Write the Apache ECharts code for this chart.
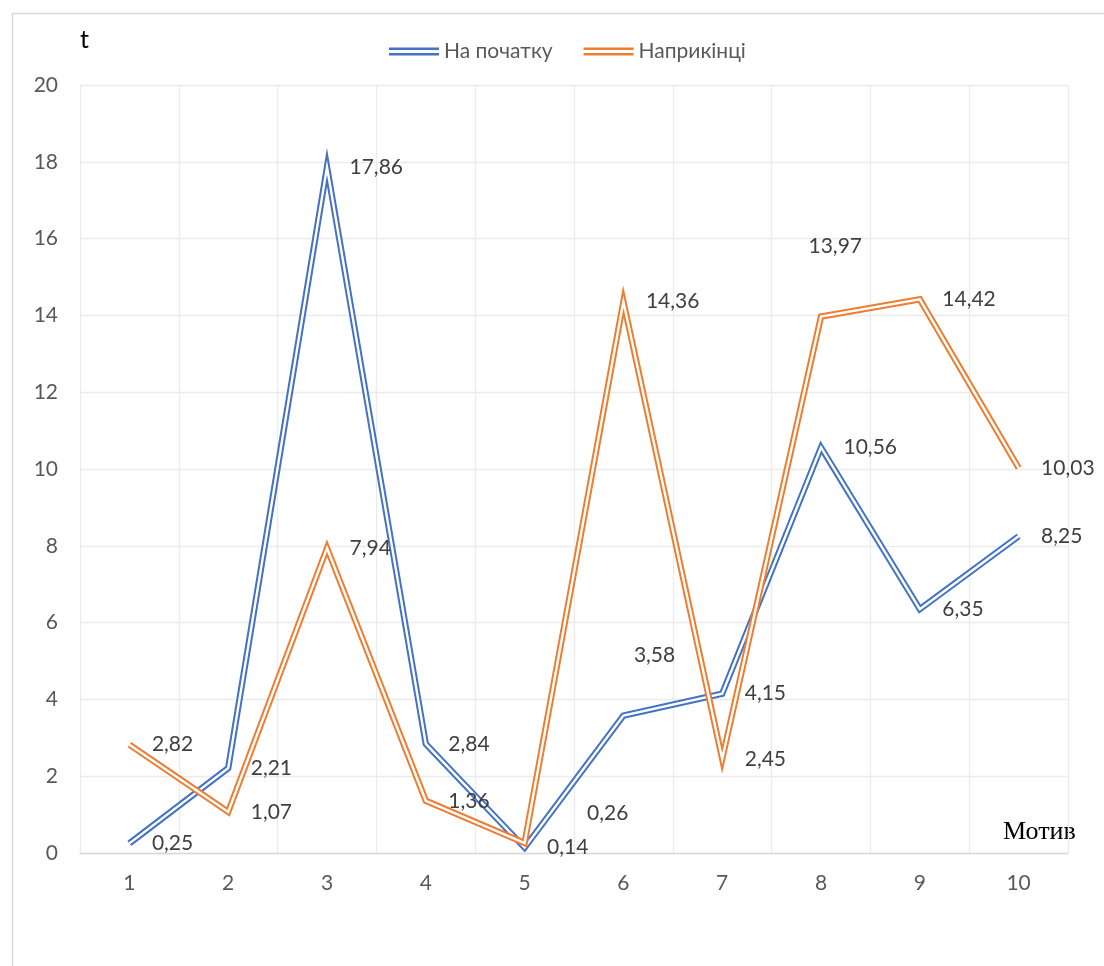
<!DOCTYPE html>
<html>
<head>
<meta charset="utf-8">
<script src="https://cdn.jsdelivr.net/npm/echarts@6/dist/echarts.min.js"></script>
<style>
  html, body { margin: 0; padding: 0; background: #fff; }
  #chart { width: 1104px; height: 966px; }
</style>
</head>
<body>
<div id="chart"></div>
<script>
// Motive categories and the two measurement series
const categories = ['1', '2', '3', '4', '5', '6', '7', '8', '9', '10'];
const startValues = [0.25, 2.21, 17.86, 2.84, 0.14, 3.58, 4.15, 10.56, 6.35, 8.25];
const endValues = [2.82, 1.07, 7.94, 1.36, 0.26, 14.36, 2.45, 13.97, 14.42, 10.03];
const yTicks = { min: 0, max: 20, step: 2 };

// hand-placed labels (pixel shifts from the default right-hand position)
const startLabelShift = { 5: [-12, -60] };
const endLabelShift = { 4: [40, -30], 7: [-35, -70] };

const BLUE = '#4472C4';
const ORANGE = '#ED7D31';
const FONT = 'Lato, "Noto Sans", sans-serif';

function fmt(v) { return v.toFixed(2).replace('.', ','); }

// double line: wide coloured stroke with a thin white core
function outer(name, color, values, shifts) {
  return {
    name: name,
    type: 'line',
    data: values,
    symbol: 'circle',
    symbolSize: 1,
    showSymbol: true,
    itemStyle: { color: 'rgba(0,0,0,0)', borderWidth: 0, opacity: 1 },
    color: color,
    lineStyle: { color: color, width: 6.4, join: 'miter', miterLimit: 30 },
    label: {
      show: true,
      position: 'right',
      distance: 22,
      formatter: p => fmt(p.value),
      color: '#404040',
      fontSize: 21,
      fontFamily: FONT,
      opacity: 1
    },
    labelLayout: function (params) {
      const s = shifts[params.dataIndex];
      return s ? { dx: s[0], dy: s[1], hideOverlap: false } : { hideOverlap: false };
    },
    emphasis: { disabled: true },
    z: 2
  };
}
function inner(values) {
  return {
    type: 'line',
    data: values,
    symbol: 'none',
    lineStyle: { color: '#ffffff', width: 2.4, join: 'miter', miterLimit: 30 },
    emphasis: { disabled: true },
    silent: true,
    z: 2
  };
}

const chart = echarts.init(document.getElementById('chart'));
chart.setOption({
  animation: false,
  backgroundColor: '#ffffff',
  grid: { left: 80, right: 36, top: 85, bottom: 113 },
  legend: {
    data: [
      { name: 'На початку', itemStyle: { color: BLUE } },
      { name: 'Наприкінці', itemStyle: { color: ORANGE } }
    ],
    left: 384,
    top: 36,
    itemWidth: 50,
    itemHeight: 8,
    itemGap: 31,
    icon: 'path://M0,0 L50,0 L50,2.5 L0,2.5 Z M0,5.5 L50,5.5 L50,8 L0,8 Z',
    itemStyle: { borderWidth: 0, opacity: 1 },
    textStyle: { color: '#595959', fontSize: 21, fontFamily: FONT }
  },
  xAxis: {
    type: 'category',
    data: categories,
    boundaryGap: true,
    axisLine: { lineStyle: { color: '#d9d9d9', width: 1.3 } },
    axisTick: { show: false },
    axisLabel: { color: '#595959', fontSize: 21, fontFamily: FONT, margin: 20 },
    splitLine: { show: true, lineStyle: { color: '#ebebeb', width: 1.3 } }
  },
  yAxis: {
    type: 'value',
    min: yTicks.min,
    max: yTicks.max,
    interval: yTicks.step,
    axisLine: { show: false },
    axisTick: { show: false },
    axisLabel: { color: '#595959', fontSize: 21, fontFamily: FONT, margin: 22 },
    splitLine: { lineStyle: { color: '#ebebeb', width: 1.3 } }
  },
  graphic: [
    {
      type: 'rect', left: 10, top: 11, silent: true,
      shape: { width: 1120, height: 1000 },
      style: { fill: 'none', stroke: '#d9d9d9', lineWidth: 1.5 }
    },
    {
      type: 'text', left: 80, top: 27,
      style: { text: 't', fontSize: 25, fill: '#000000', fontFamily: FONT }
    },
    {
      type: 'text', left: 1003, top: 819,
      style: { text: 'Мотив', fontSize: 26, fill: '#000000', fontFamily: '"Liberation Serif", "DejaVu Serif", serif' }
    }
  ],
  series: [
    outer('На початку', BLUE, startValues, startLabelShift),
    inner(startValues),
    outer('Наприкінці', ORANGE, endValues, endLabelShift),
    inner(endValues)
  ]
});
</script>
</body>
</html>
